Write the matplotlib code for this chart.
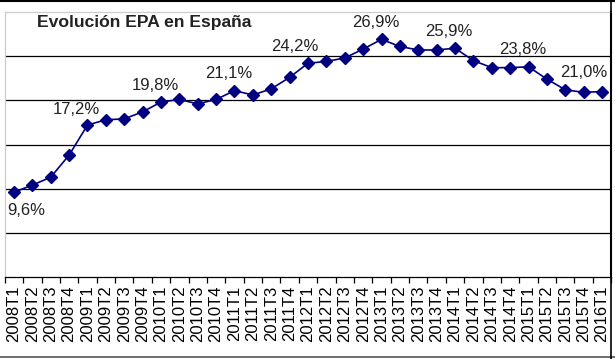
import numpy as np
import matplotlib.pyplot as plt
from matplotlib.lines import Line2D

plt.rcParams['font.family'] = ['Liberation Sans', 'DejaVu Sans']

quarters = ['%dT%d' % (y, q) for y in range(2008, 2016) for q in range(1, 5)] + ['2016T1']
tasa_paro = [9.6, 10.4, 11.3, 13.8, 17.2, 17.8, 17.9, 18.7,
             19.8, 20.1, 19.6, 20.1, 21.1, 20.6, 21.3, 22.6,
             24.2, 24.4, 24.8, 25.8, 26.9, 26.1, 25.7, 25.7,
             25.9, 24.5, 23.7, 23.7, 23.8, 22.4, 21.2, 20.9, 21.0]
labelled = [0, 4, 8, 12, 16, 20, 24, 28, 32]  # every T1

fig = plt.figure(figsize=(6.15, 3.59), dpi=100)
ax = fig.add_axes([4.8 / 615, 1 - 277 / 359, 606.4 / 615, 265 / 359])

x = np.arange(len(quarters))
ax.plot(x, tasa_paro, color='#000080', lw=1.2, marker='D', ms=6.2, zorder=3)

ax.set_xlim(-0.5, len(quarters) - 0.5)
ax.set_ylim(0, 30)
ax.set_yticks([5, 10, 15, 20, 25])
ax.yaxis.grid(True, color='black', lw=0.9)
ax.tick_params(axis='y', length=0, labelleft=False)

ax.set_xticks(x)
ax.set_xticklabels(quarters, rotation=90, fontsize=12)
ax.set_xticks(np.arange(-0.5, len(quarters)), minor=True)
ax.tick_params(axis='x', which='major', length=0, pad=6)
ax.tick_params(axis='x', which='minor', length=4.5, width=0.9, color='black')

for s in ['left', 'top']:
    ax.spines[s].set_color('#cccccc')
    ax.spines[s].set_linewidth(0.9)
ax.spines['bottom'].set_linewidth(0.9)
ax.spines['right'].set_linewidth(1.5)

# label offsets in pixels (dx, dy)
offsets = {0: (12, -18), 32: (-18, 19), 16: (-13, 17), 4: (-11, 16)}
for i in labelled:
    txt = ('%.1f%%' % tasa_paro[i]).replace('.', ',')
    dx, dy = offsets.get(i, (-6, 17))
    ax.annotate(txt, (x[i], tasa_paro[i]), xytext=(dx, dy), textcoords='offset pixels',
                ha='center', va='center', fontsize=12, color='#222222')

fig.text(37 / 615, 1 - 22 / 359, 'Evolución EPA en España', fontsize=12.6, fontweight='bold',
         ha='left', va='center', color='#222222')

fig.add_artist(Line2D([0, 1], [1 - 1 / 359, 1 - 1 / 359], color='black', lw=1.5))
fig.add_artist(Line2D([0, 1], [1 - 357 / 359, 1 - 357 / 359], color='#555555', lw=1.2))
fig.add_artist(Line2D([610.7 / 615, 610.7 / 615], [0, 1], color='black', lw=1.2))

fig.savefig('out.png', dpi=100)
